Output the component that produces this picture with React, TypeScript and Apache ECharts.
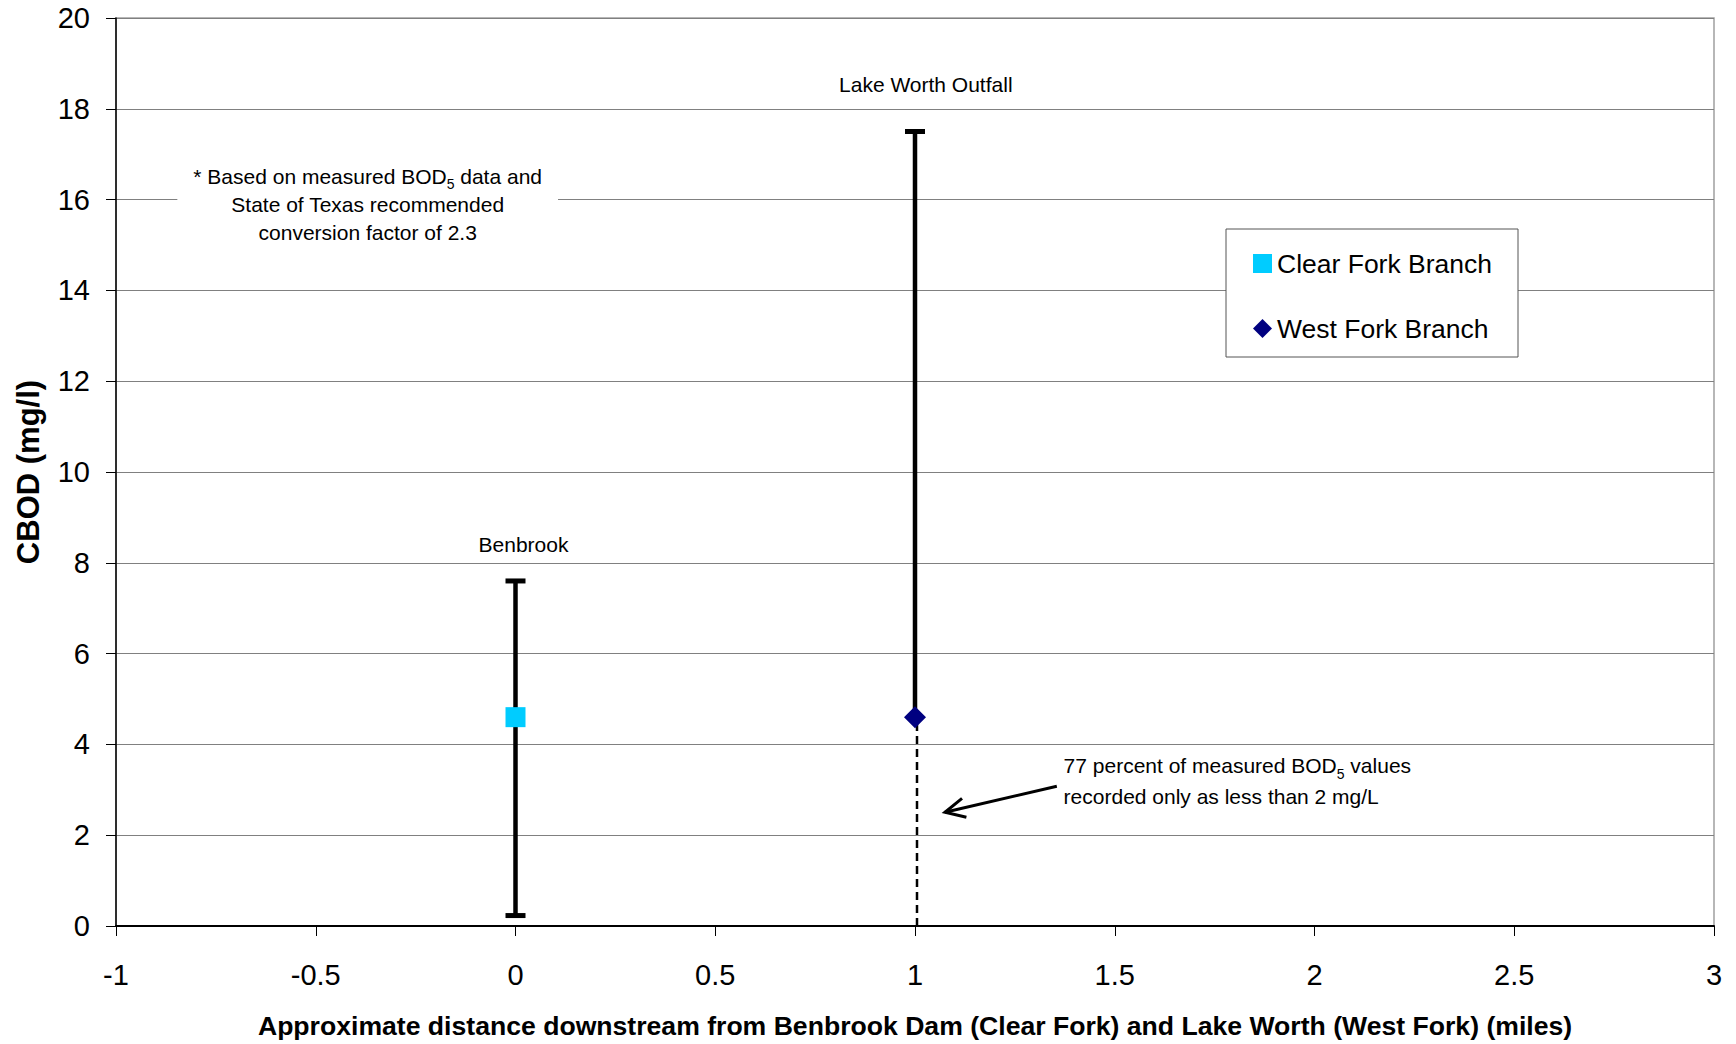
import React, { useEffect, useRef } from "react";
import * as echarts from "echarts";

// ---- axis definitions ----
const xMin = -1;
const xMax = 3;
const xInterval = 0.5;
const yMin = 0;
const yMax = 20;
const yInterval = 2;

// ---- series ----
const seriesNames = ["Clear Fork Branch", "West Fork Branch"];
const clearForkX = [0];
const clearForkMean = [4.6];
const clearForkLow = [0.23];
const clearForkHigh = [7.6];

const westForkX = [1];
const westForkMean = [4.6];
const westForkHigh = [17.5];
const westForkDashedLow = [0];

// ---- texts ----
const xAxisTitle =
  "Approximate distance downstream from Benbrook Dam (Clear Fork) and Lake Worth (West Fork) (miles)";
const yAxisTitle = "CBOD (mg/l)";
const siteLabels = ["Benbrook", "Lake Worth Outfall"];
const siteLabelAnchors = [
  [0.02, 8.4],
  [1.027, 18.53],
];
const noteLines = [
  "* Based on measured BOD{sub|5} data and",
  "State of Texas recommended",
  "conversion factor of 2.3",
];
const noteAnchor = [-0.37, 15.89];
const censorLines = [
  "77 percent of measured BOD{sub|5} values",
  "recorded only as less than 2 mg/L",
];
const censorAnchor = [1.372, 3.2];
const arrowTail = [1.355, 3.08];
const arrowTip = [1.075, 2.505];

const FONT = '"Liberation Sans", Arial, Helvetica, sans-serif';

export default function App() {
  const ref = useRef<HTMLDivElement>(null);

  useEffect(() => {
    document.body.style.margin = "0";
    if (!ref.current) return;
    const chart = echarts.init(ref.current, undefined, { renderer: "svg" });

    const solidBars = [
      [clearForkX[0], clearForkLow[0], clearForkHigh[0], 1, 1],
      [westForkX[0], westForkMean[0], westForkHigh[0], 1, 0],
    ];
    const dashedBars = [[westForkX[0], westForkDashedLow[0], westForkMean[0]]];

    const option: any = {
      animation: false,
      backgroundColor: "#fff",
      textStyle: { fontFamily: FONT, color: "#000" },
      grid: {
        left: 116,
        right: 22,
        top: 18,
        bottom: 116,
        show: true,
        borderColor: "#a0a0a0",
        borderWidth: 1.5,
        backgroundColor: "#fff",
      },
      legend: {
        orient: "vertical",
        left: 1226,
        top: 229,
        padding: [21, 26, 15, 27],
        itemGap: 38,
        itemWidth: 19,
        itemHeight: 19,
        backgroundColor: "#fff",
        borderColor: "#555",
        borderWidth: 1,
        selectedMode: false,
        textStyle: { fontSize: 26.5, lineHeight: 26, color: "#000", fontFamily: FONT },
        data: [
          { name: seriesNames[0], icon: "rect", itemStyle: { color: "#00CCFF", opacity: 1 } },
          { name: seriesNames[1], icon: "diamond", itemStyle: { color: "#000080", opacity: 1 } },
        ],
      },
      xAxis: {
        type: "value",
        min: xMin,
        max: xMax,
        interval: xInterval,
        name: xAxisTitle,
        nameLocation: "middle",
        nameGap: 86,
        nameTextStyle: { fontSize: 26.6, fontWeight: "bold", color: "#000", fontFamily: FONT },
        axisLine: { show: true, onZero: false, lineStyle: { color: "#000", width: 2 } },
        axisTick: { show: true, length: 10, lineStyle: { color: "#000", width: 1 } },
        axisLabel: { fontSize: 29, color: "#000", margin: 34, fontFamily: FONT },
        splitLine: { show: false },
      },
      yAxis: {
        type: "value",
        min: yMin,
        max: yMax,
        interval: yInterval,
        name: yAxisTitle,
        nameLocation: "middle",
        nameGap: 72,
        nameTextStyle: { fontSize: 31, fontWeight: "bold", color: "#000", fontFamily: FONT },
        axisLine: { show: true, onZero: false, lineStyle: { color: "#000", width: 1.5 } },
        axisTick: { show: true, length: 10, lineStyle: { color: "#000", width: 1 } },
        axisLabel: { fontSize: 29, color: "#000", margin: 26, fontFamily: FONT },
        splitLine: { show: true, lineStyle: { color: "#808080", width: 1 } },
      },
      series: [
        {
          type: "custom",
          silent: true,
          z: 2,
          data: solidBars,
          encode: { x: 0, y: [1, 2] },
          renderItem: (params: any, api: any) => {
            const x = api.value(0);
            const lo = api.coord([x, api.value(1)]);
            const hi = api.coord([x, api.value(2)]);
            const capTop = api.value(3);
            const capBottom = api.value(4);
            const half = 10;
            const st = { stroke: "#000", lineWidth: 4.5 };
            const children: any[] = [
              { type: "line", shape: { x1: lo[0], y1: lo[1], x2: hi[0], y2: hi[1] }, style: st },
            ];
            if (capTop)
              children.push({
                type: "line",
                shape: { x1: hi[0] - half, y1: hi[1], x2: hi[0] + half, y2: hi[1] },
                style: { stroke: "#000", lineWidth: 5 },
              });
            if (capBottom)
              children.push({
                type: "line",
                shape: { x1: lo[0] - half, y1: lo[1], x2: lo[0] + half, y2: lo[1] },
                style: { stroke: "#000", lineWidth: 5 },
              });
            return { type: "group", children };
          },
        },
        {
          type: "custom",
          silent: true,
          z: 2,
          data: dashedBars,
          encode: { x: 0, y: [1, 2] },
          renderItem: (params: any, api: any) => {
            const x = api.value(0);
            const lo = api.coord([x, api.value(1)]);
            const hi = api.coord([x, api.value(2)]);
            return {
              type: "line",
              shape: { x1: lo[0] + 2, y1: lo[1], x2: hi[0] + 2, y2: hi[1] },
              style: { stroke: "#000", lineWidth: 2.5, lineDash: [8, 5] },
            };
          },
        },
        {
          name: seriesNames[0],
          type: "scatter",
          symbol: "rect",
          symbolSize: 20,
          z: 5,
          itemStyle: { color: "#00CCFF", opacity: 1 },
          data: clearForkX.map((x, i) => [x, clearForkMean[i]]),
        },
        {
          name: seriesNames[1],
          type: "scatter",
          symbol: "diamond",
          symbolSize: 22,
          z: 5,
          itemStyle: { color: "#000080", opacity: 1 },
          data: westForkX.map((x, i) => [x, westForkMean[i]]),
        },
      ],
    };

    chart.setOption(option);

    const px = (p: number[]) => chart.convertToPixel({ gridIndex: 0 }, p) as number[];

    const siteP = siteLabelAnchors.map(px);
    const noteP = px(noteAnchor);
    const censorP = px(censorAnchor);
    const tail = px(arrowTail);
    const tip = px(arrowTip);
    const dx = tail[0] - tip[0];
    const dy = tail[1] - tip[1];
    const len = Math.sqrt(dx * dx + dy * dy);
    const ux = dx / len;
    const uy = dy / len;
    const headLen = 22;
    const ang = (26 * Math.PI) / 180;
    const rot = (a: number) => [
      tip[0] + headLen * (ux * Math.cos(a) - uy * Math.sin(a)),
      tip[1] + headLen * (ux * Math.sin(a) + uy * Math.cos(a)),
    ];
    const b1 = rot(ang);
    const b2 = rot(-ang);

    const subRich = {
      sub: { fontSize: 14, lineHeight: 18, verticalAlign: "bottom", fontFamily: FONT, fill: "#000" },
    };

    chart.setOption({
      graphic: [
        ...siteLabels.map((t, i) => ({
          type: "text",
          x: siteP[i][0],
          y: siteP[i][1],
          z: 10,
          style: {
            text: t,
            fontSize: 21,
            fontFamily: FONT,
            fill: "#000",
            align: "center",
            verticalAlign: "middle",
          },
        })),
        {
          type: "text",
          x: noteP[0],
          y: noteP[1],
          z: 10,
          style: {
            text: noteLines.join("\n"),
            fontSize: 21,
            lineHeight: 28,
            fontFamily: FONT,
            fill: "#000",
            align: "center",
            verticalAlign: "middle",
            backgroundColor: "#fff",
            padding: [10, 16],
            rich: subRich,
          },
        },
        {
          type: "text",
          x: censorP[0],
          y: censorP[1],
          z: 10,
          style: {
            text: censorLines.join("\n"),
            fontSize: 21,
            lineHeight: 31,
            fontFamily: FONT,
            fill: "#000",
            align: "left",
            verticalAlign: "middle",
            rich: subRich,
          },
        },
        {
          type: "polyline",
          z: 10,
          shape: { points: [tail, tip] },
          style: { stroke: "#000", lineWidth: 3, fill: null },
        },
        {
          type: "polyline",
          z: 10,
          shape: { points: [b1, tip, b2] },
          style: { stroke: "#000", lineWidth: 3, fill: null },
        },
      ],
    });

    return () => chart.dispose();
  }, []);

  return <div ref={ref} style={{ width: 1736, height: 1044 }} />;
}
